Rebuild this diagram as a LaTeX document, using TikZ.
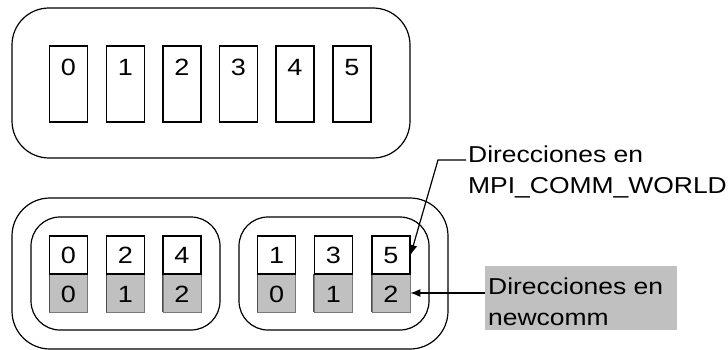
\documentclass[tikz,border=0pt]{standalone}
\usepackage{fontspec}
\setmainfont{Liberation Sans}
\usetikzlibrary{arrows.meta}
\definecolor{cellgray}{RGB}{192,192,192}
\definecolor{edgegray}{RGB}{120,120,120}
\begin{document}
\begin{tikzpicture}[x=1pt,y=-1pt,
  frame/.style={draw,line width=1.2pt},
  cellbox/.style={draw,line width=1.1pt,minimum width=38pt,inner sep=0pt},
  tallcell/.style={cellbox,minimum height=76pt},
  upcell/.style={cellbox,minimum height=38pt},
  lowcell/.style={draw=edgegray,line width=0.7pt,minimum width=38pt,inner sep=0pt,minimum height=38pt,fill=cellgray},
  digit/.style={anchor=base,inner sep=0pt,font=\fontsize{23.5}{28}\selectfont},
  lbl/.style={align=left,inner sep=0pt,font=\fontsize{23}{31}\selectfont},
  arr/.style={line width=1.2pt,-{Latex[length=10pt,width=8pt]}}
]
\useasboundingbox (0,0) rectangle (728,350);
% top box
\draw[frame,rounded corners=37pt] (12,8) rectangle (410,158);
\foreach \i/\x in {0/68.5,1/125.5,2/182,3/238.5,4/295,5/352}{
  \node[tallcell] (t\i) at (\x,84) {};
  \node[digit] (td\i) at (\x,76) {\scalebox{1.15}[1]{\i}};
}
% bottom boxes
\draw[frame,rounded corners=38pt] (12,198) rectangle (448,349);
\draw[frame,rounded corners=29pt] (31,217) rectangle (220,330);
\draw[frame,rounded corners=29pt] (239,217) rectangle (429,330);
\foreach \n/\x/\a/\b in {0/68.5/0/0,1/125.5/2/1,2/182/4/2,3/276.7/1/0,4/333.3/3/1,5/391/5/2}{
  \node[lowcell] (l\n) at (\x,293) {};
  \draw[line width=1pt,black!70] (l\n.north west) -- (l\n.south west);
  \node[upcell] (u\n) at (\x,255) {};
  \node[digit] (ud\n) at (\x,263.5) {\scalebox{1.15}[1]{\a}};
  \node[digit] (ld\n) at (\x,302) {\scalebox{1.15}[1]{\b}};
}
% labels
\node[lbl,anchor=base west] (lab1) at (468,193) {\scalebox{1.15}[1]{Direcciones en}\\\scalebox{1.15}[1]{MPI\_COMM\_WORLD}};
\node[fill=cellgray,minimum width=192pt,minimum height=64pt,inner sep=0pt,anchor=north west] (gbox) at (485,266) {};
\node[lbl,anchor=base west] (lab2) at (488,325) {\scalebox{1.15}[1]{Direcciones en}\\\scalebox{1.15}[1]{newcomm}};
\coordinate (k1) at (438,160);
\draw[arr] (466,160) -- (k1) -- (u5.east);
\draw[arr] (l5.east -| gbox.west) -- (l5.east);
\end{tikzpicture}
\end{document}
